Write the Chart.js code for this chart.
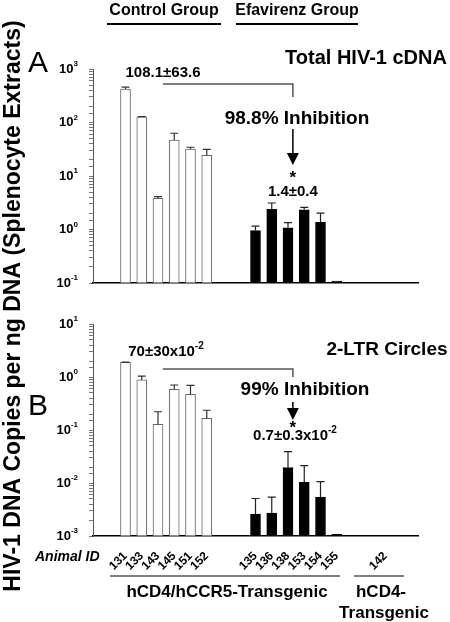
<!DOCTYPE html>
<html>
<head>
<meta charset="utf-8">
<script src="https://cdn.jsdelivr.net/npm/chart.js@4.4.0/dist/chart.umd.min.js"></script>
<style>
  html, body { margin: 0; padding: 0; background: #fff; }
  #wrap { position: relative; width: 450px; height: 622px; }
  #wrap canvas { position: absolute; left: 0; top: 0; }
</style>
</head>
<body>
<div id="wrap">
  <canvas id="chartA" width="450" height="622"></canvas>
  <canvas id="chartB" width="450" height="622"></canvas>
</div>
<script>
// animal IDs per group
const controlIds = ['131', '133', '143', '145', '151', '152'];
const efavirenzIds = ['135', '136', '138', '153', '154', '155'];
const hcd4Ids = ['142'];

// Panel A: total HIV-1 cDNA (copies / ng DNA)
const totalControl = [423, 127, 3.83, 47, 32, 24.4];
const totalControlErr = [35, 2, 0.3, 16, 2.5, 7];
const totalEfavirenz = [0.95, 2.38, 1.08, 2.34, 1.36, 0.109];
const totalEfavirenzErr = [0.21, 0.75, 0.26, 0.25, 0.67, 0];

// Panel B: 2-LTR circles
const ltrControl = [1.89, 0.88, 0.128, 0.586, 0.472, 0.166];
const ltrControlErr = [0.02, 0.16, 0.093, 0.12, 0.22, 0.07];
const ltrEfavirenz = [0.0026, 0.0027, 0.0195, 0.0103, 0.0054, 0.00107];
const ltrEfavirenzErr = [0.0025, 0.0027, 0.0195, 0.011, 0.0052, 0];

// y tick exponents (10^n)
const totalTickExps = [-1, 0, 1, 2, 3];
const ltrTickExps = [-3, -2, -1, 0, 1];

const FONT = '"Liberation Sans", Arial, sans-serif';

// category slots: gaps between the groups
const gap = ['', ''];
const labels = [].concat(gap, controlIds, gap, efavirenzIds, gap, hcd4Ids, gap);

function slotControl(arr) {
    return [].concat([null, null], arr, [null, null], efavirenzIds.map(() => null), [null, null], [null], [null, null]);
}
function slotEfav(arr) {
    return [].concat([null, null], controlIds.map(() => null), [null, null], arr, [null, null], [null], [null, null]);
}

function supText(ctx, base, sup, x, y, size, align) {
    const big = 'bold ' + size + 'px ' + FONT;
    const small = 'bold ' + Math.round(size * 0.65) + 'px ' + FONT;
    ctx.font = big;
    const w1 = ctx.measureText(base).width;
    ctx.font = small;
    const w2 = ctx.measureText(sup).width;
    let x0 = x;
    if (align === 'center') x0 = x - (w1 + w2) / 2;
    if (align === 'right') x0 = x - w1 - w2;
    ctx.textAlign = 'left';
    ctx.textBaseline = 'middle';
    ctx.font = big;
    ctx.fillText(base, x0, y);
    ctx.font = small;
    ctx.fillText(sup, x0 + w1, y - size * 0.38);
}

function text(ctx, str, x, y, size, align, style) {
    ctx.font = (style || 'bold') + ' ' + size + 'px ' + FONT;
    ctx.textAlign = align || 'center';
    ctx.textBaseline = 'middle';
    ctx.fillText(str, x, y);
}

function arrow(ctx, x, y1, y2) {
    ctx.beginPath();
    ctx.moveTo(x, y1);
    ctx.lineTo(x, y2 - 10);
    ctx.stroke();
    ctx.beginPath();
    ctx.moveTo(x - 6, y2 - 12);
    ctx.lineTo(x + 6, y2 - 12);
    ctx.lineTo(x, y2);
    ctx.closePath();
    ctx.fill();
}

// upper error bars + y tick labels
const errorBars = {
    id: 'errorBars',
    afterDatasetsDraw(chart) {
        const ctx = chart.ctx;
        const ys = chart.scales.y;
        ctx.save();
        chart.data.datasets.forEach((ds, i) => {
            const meta = chart.getDatasetMeta(i);
            ctx.strokeStyle = ds.errColor;
            ctx.lineWidth = 1.2;
            meta.data.forEach((bar, j) => {
                const v = ds.data[j];
                const e = ds.errors[j];
                if (v == null || !e) return;
                const top = ys.getPixelForValue(v + e);
                ctx.beginPath();
                ctx.moveTo(bar.x, bar.y);
                ctx.lineTo(bar.x, top);
                ctx.moveTo(bar.x - 4, top);
                ctx.lineTo(bar.x + 4, top);
                ctx.stroke();
            });
        });
        // tick labels
        ctx.fillStyle = '#000';
        chart.options.tickExps.forEach(n => {
            const py = ys.getPixelForValue(Math.pow(10, n));
            supText(ctx, '10', String(n), 78, py, 13, 'right');
        });
        ctx.restore();
    }
};

const panelA = {
    id: 'panelA',
    afterDraw(chart) {
        const ctx = chart.ctx;
        const xs = chart.scales.x;
        ctx.save();
        ctx.fillStyle = '#000';
        // header
        text(ctx, 'Control Group', 164, 11, 16);
        text(ctx, 'Efavirenz Group', 297, 11, 16);
        ctx.strokeStyle = '#000';
        ctx.lineWidth = 2;
        ctx.beginPath();
        ctx.moveTo(107, 24); ctx.lineTo(221, 24);
        ctx.moveTo(236, 24); ctx.lineTo(358, 24);
        ctx.stroke();
        // y title
        ctx.save();
        ctx.translate(20, 306);
        ctx.rotate(-Math.PI / 2);
        ctx.font = 'bold 23px ' + FONT;
        ctx.textAlign = 'center';
        ctx.textBaseline = 'alphabetic';
        ctx.fillText('HIV-1 DNA Copies per ng DNA (Splenocyte Extracts)', 0, 0);
        ctx.restore();
        // panel letter + title
        ctx.font = '30px ' + FONT;
        ctx.textAlign = 'left';
        ctx.textBaseline = 'alphabetic';
        ctx.fillText('A', 28, 72);
        text(ctx, 'Total HIV-1 cDNA', 366, 58, 20);
        // bracket + arrow
        const ax = xs.getPixelForValue(12.3);
        const bx = xs.getPixelForValue(4.3);
        text(ctx, '108.1\u00b163.6', 163, 73, 15);
        ctx.strokeStyle = '#555';
        ctx.lineWidth = 1.5;
        ctx.beginPath();
        ctx.moveTo(bx, 84); ctx.lineTo(ax, 84); ctx.lineTo(ax, 97);
        ctx.stroke();
        text(ctx, '98.8% Inhibition', 297, 119, 19);
        ctx.fillStyle = '#000';
        ctx.strokeStyle = '#000';
        arrow(ctx, ax, 129, 165);
        text(ctx, '*', ax, 178, 17);
        text(ctx, '1.4\u00b10.4', ax, 192, 15);
        ctx.restore();
    }
};

const panelB = {
    id: 'panelB',
    afterDraw(chart) {
        const ctx = chart.ctx;
        const xs = chart.scales.x;
        ctx.save();
        ctx.fillStyle = '#000';
        ctx.font = '30px ' + FONT;
        ctx.textAlign = 'left';
        ctx.textBaseline = 'alphabetic';
        ctx.fillText('B', 28, 415);
        text(ctx, '2-LTR Circles', 387, 350, 19);
        const ax = xs.getPixelForValue(12.3);
        const bx = xs.getPixelForValue(4.3);
        supText(ctx, '70\u00b130x10', '-2', 166, 352, 15, 'center');
        ctx.strokeStyle = '#555';
        ctx.lineWidth = 1.5;
        ctx.beginPath();
        ctx.moveTo(bx, 369); ctx.lineTo(ax, 369); ctx.lineTo(ax, 377);
        ctx.stroke();
        text(ctx, '99% Inhibition', 305, 390, 19);
        ctx.strokeStyle = '#000';
        arrow(ctx, ax, 402, 420);
        text(ctx, '*', ax, 428, 17);
        supText(ctx, '0.7\u00b10.3x10', '-2', 295, 436, 15, 'center');
        // bottom labels
        text(ctx, 'Animal ID', 35, 557, 14, 'left', 'italic bold');
        ctx.lineWidth = 1;
        ctx.beginPath();
        ctx.moveTo(110, 576); ctx.lineTo(340, 576);
        ctx.moveTo(354, 576); ctx.lineTo(404, 576);
        ctx.stroke();
        text(ctx, 'hCD4/hCCR5-Transgenic', 227, 592, 17);
        text(ctx, 'hCD4-', 381, 592, 17);
        text(ctx, 'Transgenic', 384, 613, 17);
        ctx.restore();
    }
};

function makeChart(id, ctrl, ctrlErr, efav, efavErr, yMin, yMax, tickExps, padTop, xHeight, showX, extra) {
    return new Chart(document.getElementById(id), {
        type: 'bar',
        data: {
            labels: labels,
            datasets: [{
                data: slotControl(ctrl),
                errors: slotControl(ctrlErr),
                errColor: '#333',
                backgroundColor: '#fff',
                borderColor: '#666',
                borderWidth: 1,
                borderSkipped: false,
                barThickness: 10,
                grouped: false
            }, {
                data: slotEfav(efav),
                errors: slotEfav(efavErr),
                errColor: '#222',
                backgroundColor: '#000',
                borderColor: '#000',
                borderWidth: 1,
                borderSkipped: false,
                barThickness: 10,
                grouped: false
            }]
        },
        options: {
            responsive: false,
            animation: false,
            devicePixelRatio: 1,
            tickExps: tickExps,
            layout: { padding: { top: padTop, right: 32, left: 0, bottom: 0 } },
            plugins: { legend: { display: false }, tooltip: { enabled: false } },
            scales: {
                x: {
                    offset: false,
                    grid: { display: false, drawTicks: false },
                    border: { color: '#000', width: 1.5 },
                    ticks: {
                        display: showX,
                        autoSkip: false,
                        minRotation: 45,
                        maxRotation: 45,
                        padding: 13,
                        color: '#000',
                        font: { family: FONT, weight: 'bold', size: 12 }
                    },
                    afterFit: s => { s.height = xHeight; }
                },
                y: {
                    type: 'logarithmic',
                    min: yMin,
                    max: yMax,
                    grid: { drawOnChartArea: false, tickLength: 4, color: '#777' },
                    border: { color: '#555', width: 1 },
                    ticks: { display: false },
                    afterFit: s => { s.width = 93; }
                }
            }
        },
        plugins: [errorBars, extra]
    });
}

makeChart('chartA', totalControl, totalControlErr, totalEfavirenz, totalEfavirenzErr,
    0.1, 1000, totalTickExps, 69, 339, false, panelA);
makeChart('chartB', ltrControl, ltrControlErr, ltrEfavirenz, ltrEfavirenzErr,
    0.001, 10, ltrTickExps, 324, 86, true, panelB);
</script>
</body>
</html>
